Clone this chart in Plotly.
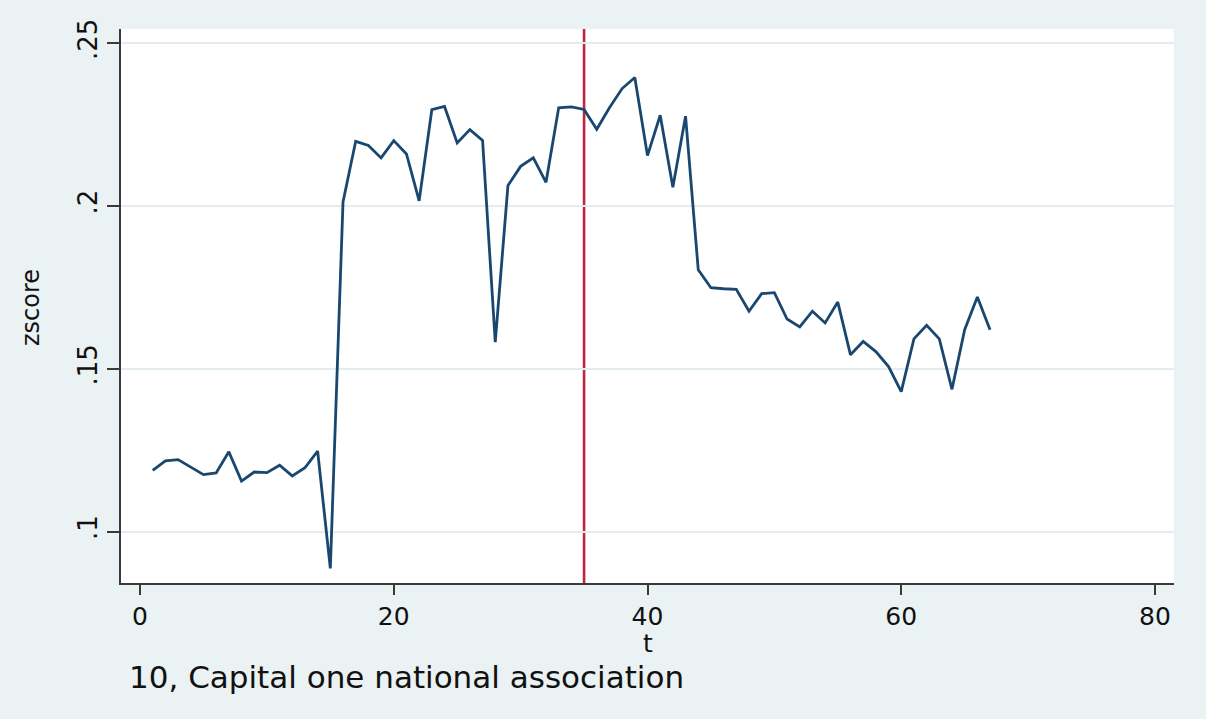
import plotly.graph_objects as go

# ---- data ----
t_values = list(range(1, 68))
zscore_values = [
    0.1188, 0.1217, 0.1221, 0.1199, 0.1175, 0.1180, 0.1245, 0.1155, 0.1183, 0.1181,
    0.1204, 0.1171, 0.1196, 0.1247, 0.0887, 0.2013, 0.2199, 0.2186, 0.2148, 0.2201,
    0.2160, 0.2016, 0.2296, 0.2306, 0.2194, 0.2235, 0.2202, 0.1582, 0.2063, 0.2122,
    0.2148, 0.2073, 0.2302, 0.2305, 0.2297, 0.2236, 0.2302, 0.2361, 0.2395, 0.2155,
    0.2279, 0.2058, 0.2276, 0.1804, 0.1749, 0.1746, 0.1744, 0.1677, 0.1731, 0.1734,
    0.1653, 0.1629, 0.1677, 0.1641, 0.1705, 0.1543, 0.1584, 0.1553, 0.1507, 0.1430,
    0.1592, 0.1634, 0.1592, 0.1437, 0.1620, 0.1721, 0.1620,
]
event_t = 35
x_tick_values = [0, 20, 40, 60, 80]
y_tick_values = [0.1, 0.15, 0.2, 0.25]
y_tick_labels = [".1", ".15", ".2", ".25"]
x_title = "t"
y_title = "zscore"
caption_text = "10, Capital one national association"

BG = "#eaf2f3"
NAVY = "#1a476f"
RED = "#c2243f"
AXIS = "#3a3a3a"
FONT = "DejaVu Sans"

fig = go.Figure()
fig.add_trace(go.Scatter(
    x=t_values, y=zscore_values, mode="lines",
    line=dict(color=NAVY, width=2.8), showlegend=False, hoverinfo="skip",
))

fig.add_shape(type="line", xref="x", yref="paper", x0=event_t, x1=event_t, y0=0, y1=1,
              line=dict(color=RED, width=2.6), layer="between")

fig.add_annotation(text=caption_text, xref="paper", yref="paper", x=0.006, y=-0.169,
                   xanchor="left", yanchor="middle", showarrow=False,
                   font=dict(family=FONT, size=31, color="#111111"))
fig.add_annotation(text=x_title, xref="paper", yref="paper", x=0.5, y=-0.109,
                   xanchor="center", yanchor="middle", showarrow=False,
                   font=dict(family=FONT, size=25, color="#111111"))
fig.add_annotation(text=y_title, xref="paper", yref="paper", x=-0.0855, y=0.498,
                   xanchor="center", yanchor="middle", showarrow=False, textangle=-90,
                   font=dict(family=FONT, size=24, color="#111111"))

fig.update_layout(
    width=1206, height=719,
    margin=dict(l=121, r=32, t=29, b=136),
    paper_bgcolor=BG, plot_bgcolor="white",
    font=dict(family=FONT, size=25, color="#111111"),
    showlegend=False,
)
fig.update_xaxes(
    range=[-1.5, 81.5], tickvals=x_tick_values, ticks="outside", ticklen=10, tickwidth=1.5,
    tickcolor=AXIS, showline=True, linecolor=AXIS, linewidth=1.5, showgrid=False,
    zeroline=False, tickfont=dict(size=25),
)
fig.update_yaxes(
    range=[0.0842, 0.2544], tickvals=y_tick_values, ticktext=y_tick_labels, tickangle=-90,
    ticks="outside", ticklen=12, tickwidth=1.5, tickcolor=AXIS, showline=True,
    linecolor=AXIS, linewidth=1.5, showgrid=True, gridcolor="#e3ecee", gridwidth=2,
    zeroline=False, tickfont=dict(size=26),
)

fig.write_html("out.html")
